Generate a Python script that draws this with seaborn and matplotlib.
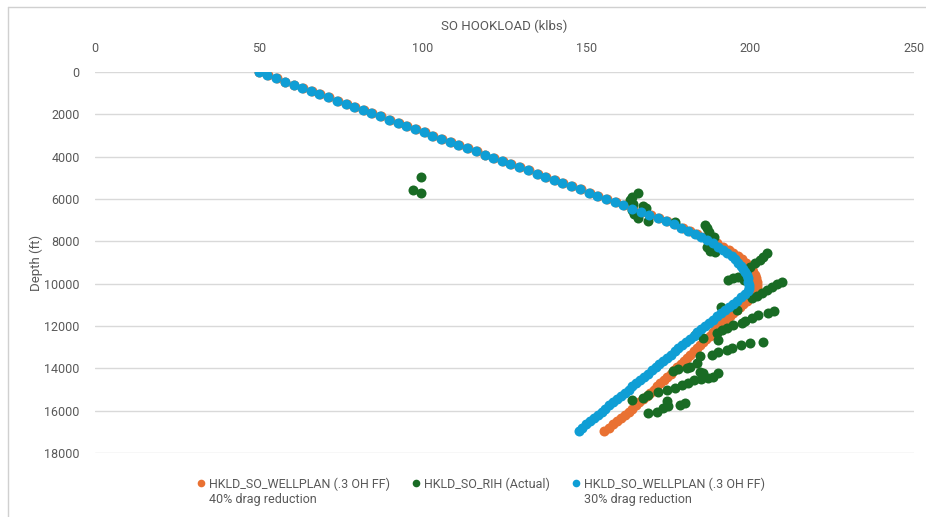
import matplotlib
matplotlib.use("Agg")
import matplotlib.pyplot as plt
from matplotlib import font_manager
from matplotlib.lines import Line2D
import pandas as pd
import seaborn as sns

# Survey stations (ft) for the modelled hookload curves
depth_ft = [
    0, 150, 300, 450, 600, 750, 900, 1050, 1200, 1350,
    1500, 1650, 1800, 1950, 2100, 2250, 2400, 2550, 2700, 2850,
    3000, 3150, 3300, 3450, 3600, 3750, 3900, 4050, 4200, 4350,
    4500, 4650, 4800, 4950, 5100, 5250, 5400, 5550, 5700, 5850,
    6000, 6150, 6300, 6450, 6600, 6750, 6900, 7050, 7200, 7350,
    7500, 7650, 7800, 7950, 8100, 8250, 8400, 8550, 8700, 8850,
    9000, 9150, 9300, 9450, 9600, 9750, 9900, 10050, 10200, 10350,
    10500, 10650, 10800, 10950, 11100, 11250, 11400, 11550, 11700, 11850,
    12000, 12150, 12300, 12450, 12600, 12750, 12900, 13050, 13200, 13350,
    13500, 13650, 13800, 13950, 14100, 14250, 14400, 14550, 14700, 14850,
    15000, 15150, 15300, 15450, 15600, 15750, 15900, 16050, 16200, 16350,
    16500, 16650, 16800, 16950,
]

# WELLPLAN slack-off hookload, .3 OH FF, 40% drag reduction (klbs)
hkld_plan_40 = [
    50.0, 52.7, 55.5, 58.1, 60.8, 63.5, 66.2, 68.8, 71.5, 74.1,
    76.8, 79.4, 82.1, 84.7, 87.4, 90.0, 92.7, 95.3, 98.0, 100.6,
    103.3, 105.9, 108.6, 111.2, 113.9, 116.5, 119.2, 121.8, 124.5, 127.1,
    129.8, 132.4, 135.1, 137.7, 140.4, 143.0, 145.7, 148.3, 151.0, 153.6,
    156.3, 159.0, 161.6, 164.3, 166.9, 169.6, 172.3, 174.7, 177.1, 179.4,
    181.7, 183.9, 186.0, 188.0, 189.9, 191.7, 193.4, 194.9, 196.3, 197.6,
    198.7, 199.6, 200.4, 201.0, 201.5, 201.9, 202.1, 202.2, 202.1, 201.8,
    201.1, 200.1, 199.0, 197.9, 197.0, 195.9, 194.8, 193.7, 192.6, 191.5,
    190.5, 189.5, 188.5, 187.6, 186.6, 185.6, 184.7, 183.7, 182.7, 181.7,
    180.7, 179.8, 178.8, 177.8, 176.8, 175.7, 174.7, 173.6, 172.6, 171.5,
    170.5, 169.4, 168.4, 167.3, 166.2, 165.1, 164.0, 163.0, 161.8, 160.6,
    159.3, 158.0, 156.8, 155.5,
]

# WELLPLAN slack-off hookload, .3 OH FF, 30% drag reduction (klbs)
hkld_plan_30 = [
    50.0, 52.6, 55.3, 57.9, 60.6, 63.2, 65.9, 68.5, 71.2, 73.8,
    76.5, 79.1, 81.8, 84.4, 87.1, 89.7, 92.4, 95.0, 97.7, 100.3,
    103.0, 105.6, 108.3, 110.9, 113.6, 116.2, 118.9, 121.5, 124.2, 126.8,
    129.5, 132.1, 134.8, 137.4, 140.1, 142.7, 145.4, 148.0, 150.7, 153.3,
    156.0, 158.6, 161.3, 163.9, 166.6, 169.2, 171.9, 174.3, 176.6, 178.8,
    181.0, 183.0, 185.0, 186.9, 188.6, 190.2, 191.7, 193.0, 194.3, 195.4,
    196.4, 197.2, 197.9, 198.5, 198.9, 199.2, 199.4, 199.5, 199.5, 199.2,
    198.3, 197.1, 195.9, 194.7, 193.5, 192.3, 191.1, 189.9, 188.7, 187.5,
    186.3, 185.1, 183.9, 182.8, 181.6, 180.4, 179.3, 178.1, 176.9, 175.7,
    174.6, 173.4, 172.2, 171.1, 169.9, 168.7, 167.5, 166.4, 165.2, 164.0,
    162.9, 161.7, 160.5, 159.3, 158.2, 157.0, 155.8, 154.7, 153.5, 152.3,
    151.1, 150.0, 148.8, 147.6,
]

# Actual slack-off readings while running in hole
rih_depth_ft = [
    4970, 5570, 5720,
    5720, 5890, 6050, 6220, 6310, 6430, 6520, 6690, 6920, 7030,
    7100, 7220, 7390, 7550, 7810, 8290, 8440, 8490,
    8570, 8730, 8880, 9040, 9200, 9350, 9670, 9750, 9830, 9830,
    9910, 10030, 10140, 10300, 10450, 10560, 10660,
    11110, 11250,
    11270, 11400, 11480, 11630, 11760, 11870, 11950, 12100, 12180, 12340,
    12420, 12580, 12650,
    12740, 12780, 12890, 13050, 13130, 13240, 13360, 13440, 13750, 13920,
    13990, 14020, 14120, 14150, 14230,
    14230, 14390, 14460, 14520, 14560, 14680, 14800, 14920, 15000, 15100,
    15280, 15380, 15480,
    15530, 15640, 15720, 15800, 15880, 16040, 16110,
]
rih_hkld = [
    99.4, 97.1, 99.5,
    165.8, 163.8, 163.3, 164.2, 167.4, 168.2, 163.8, 164.5, 165.8, 168.8,
    177.0, 186.2, 186.7, 187.3, 188.8, 186.8, 187.7, 189.3,
    205.0, 204.0, 203.0, 201.5, 199.9, 198.9, 196.4, 194.8, 193.3, 198.1,
    209.6, 208.1, 206.6, 205.0, 203.5, 202.0, 200.5,
    191.1, 196.0,
    207.4, 205.5, 202.5, 200.5, 198.4, 197.4, 194.8, 192.8, 191.3, 189.8,
    183.1, 185.7, 190.3,
    204.0, 199.9, 197.2, 194.4, 192.8, 190.3, 188.2, 184.6, 183.7, 181.6,
    180.6, 178.0, 176.5, 184.6, 185.7,
    190.3, 188.7, 187.2, 185.0, 182.8, 181.0, 179.1, 177.0, 174.5, 171.9,
    168.9, 167.4, 163.8,
    174.5, 180.1, 178.6, 175.0, 173.5, 171.4, 168.9,
]

depth_ticks = [0, 2000, 4000, 6000, 8000, 10000, 12000, 14000, 16000, 18000]
hkld_ticks = [0, 50, 100, 150, 200, 250]

series_names = [
    "HKLD_SO_WELLPLAN (.3 OH FF)",
    "HKLD_SO_RIH (Actual)",
    "HKLD_SO_WELLPLAN (.3 OH FF)",
]
series_notes = ["40% drag reduction", "", "30% drag reduction"]

ORANGE = "#E97132"
GREEN = "#196B24"
BLUE = "#0F9ED5"
TEXT = "#595959"
GRID = "#D9D9D9"

sns.set_theme(style="white")
available = {f.name for f in font_manager.fontManager.ttflist}
family = next((f for f in ["Liberation Sans Narrow", "Roboto", "Open Sans", "DejaVu Sans"]
               if f in available), "DejaVu Sans")
plt.rcParams["font.family"] = [family, "DejaVu Sans"]

plan40 = pd.DataFrame({"depth": depth_ft, "hkld": hkld_plan_40})
plan30 = pd.DataFrame({"depth": depth_ft, "hkld": hkld_plan_30})
actual = pd.DataFrame({"depth": rih_depth_ft, "hkld": rih_hkld})

W, H = 926, 517
fig = plt.figure(figsize=(W / 100, H / 100), dpi=100)
ax = fig.add_axes([95 / W, 1 - 453 / H, (914 - 95) / W, (453 - 72) / H])

msize = 52
sns.scatterplot(data=plan40, x="hkld", y="depth", color=ORANGE, s=msize,
                linewidth=0, ax=ax, zorder=3)
sns.scatterplot(data=actual, x="hkld", y="depth", color=GREEN, s=msize,
                linewidth=0, ax=ax, zorder=4)
sns.scatterplot(data=plan30, x="hkld", y="depth", color=BLUE, s=msize,
                linewidth=0, ax=ax, zorder=5)

ax.set_xlim(0, 250)
ax.set_ylim(18000, 0)
ax.set_xticks(hkld_ticks)
ax.set_yticks(depth_ticks)
ax.xaxis.tick_top()
ax.xaxis.set_label_position("top")
ax.tick_params(axis="both", length=0, labelsize=9, colors=TEXT)
ax.tick_params(axis="x", pad=12)
ax.tick_params(axis="y", pad=11)
ax.set_xlabel("SO HOOKLOAD (klbs)", fontsize=9.5, color=TEXT, labelpad=9)
ax.set_ylabel("Depth (ft)", fontsize=9.5, color=TEXT, labelpad=1)
ax.grid(axis="y", color=GRID, linewidth=1.0, zorder=0)
ax.grid(axis="x", visible=False)
ax.set_axisbelow(True)
for sp in ax.spines.values():
    sp.set_visible(False)
ax.set_facecolor("white")

# Chart frame (top and left edges)
fig.add_artist(Line2D([8 / W, 1.0], [1 - 7 / H, 1 - 7 / H], transform=fig.transFigure,
                      color="#D0D0D0", linewidth=1.0))
fig.add_artist(Line2D([8 / W, 8 / W], [0.0, 1 - 7 / H], transform=fig.transFigure,
                      color="#D0D0D0", linewidth=1.0))

handles = [Line2D([], [], linestyle="", marker="o", markersize=5.5,
                  markerfacecolor=c, markeredgewidth=0) for c in (ORANGE, GREEN, BLUE)]
leg = fig.legend(handles, series_names, loc="center", ncol=3, frameon=False,
                 bbox_to_anchor=(481 / W, 1 - 484 / H), fontsize=9,
                 handlelength=0.6, handletextpad=0.35, columnspacing=1.8,
                 labelcolor=TEXT, borderpad=0, borderaxespad=0)

fig.canvas.draw()
renderer = fig.canvas.get_renderer()
for txt, note in zip(leg.get_texts(), series_notes):
    if not note:
        continue
    bb = txt.get_window_extent(renderer)
    fig.text(bb.x0 / W, (bb.y0 - 15) / H, note, fontsize=9, color=TEXT,
             ha="left", va="bottom")

fig.savefig("out.png", dpi=100, facecolor="white")
